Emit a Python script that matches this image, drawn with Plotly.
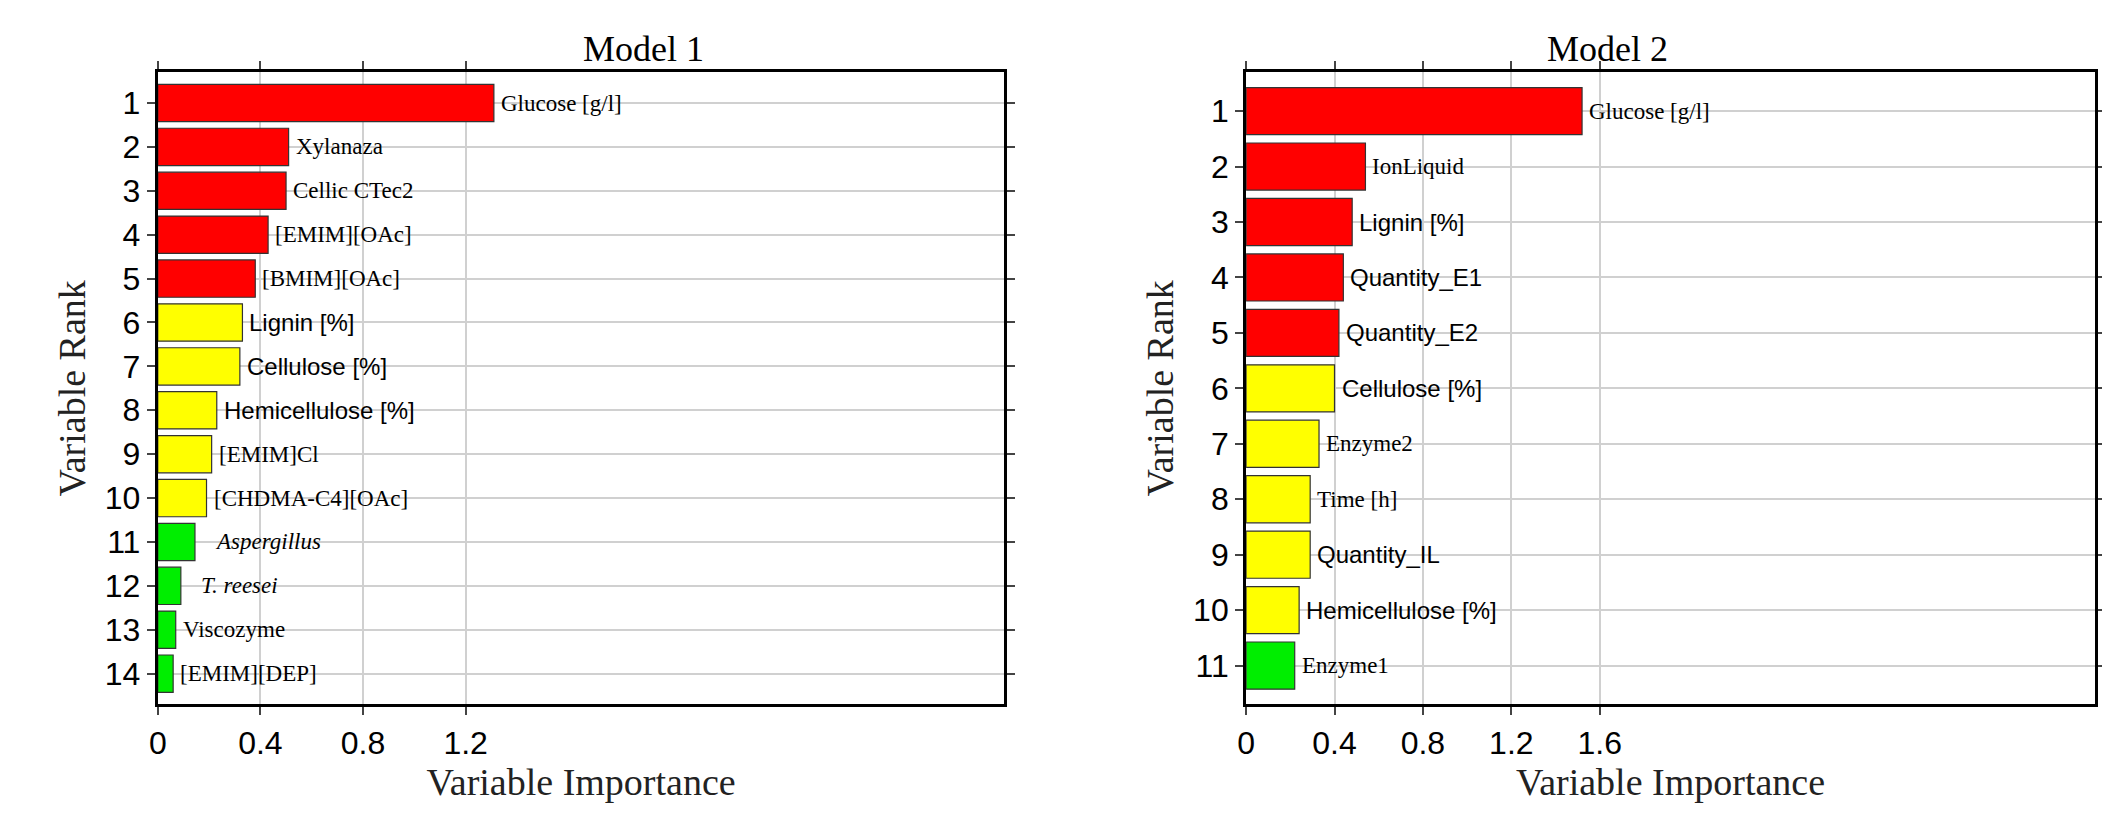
import plotly.graph_objects as go

m1_labels = ["Glucose [g/l]", "Xylanaza", "Cellic CTec2", "[EMIM][OAc]", "[BMIM][OAc]", "Lignin [%]",
             "Cellulose [%]", "Hemicellulose [%]", "[EMIM]Cl", "[CHDMA-C4][OAc]", "<i>Aspergillus</i>",
             "<i>T. reesei</i>", "Viscozyme", "[EMIM][DEP]"]
m1_values = [1.31, 0.51, 0.50, 0.43, 0.38, 0.33, 0.32, 0.23, 0.21, 0.19, 0.145, 0.09, 0.07, 0.06]
m1_colors = ["#ff0000"] * 5 + ["#ffff00"] * 5 + ["#00ee00"] * 4
m1_serif = [1, 1, 1, 1, 1, 0, 0, 0, 1, 1, 1, 1, 1, 1]

m2_labels = ["Glucose [g/l]", "IonLiquid", "Lignin [%]", "Quantity_E1", "Quantity_E2", "Cellulose [%]",
             "Enzyme2", "Time [h]", "Quantity_IL", "Hemicellulose [%]", "Enzyme1"]
m2_values = [1.52, 0.54, 0.48, 0.44, 0.42, 0.40, 0.33, 0.29, 0.29, 0.24, 0.22]
m2_colors = ["#ff0000"] * 5 + ["#ffff00"] * 5 + ["#00ee00"]
m2_serif = [1, 1, 0, 0, 0, 0, 1, 1, 0, 0, 1]

SERIF = "Liberation Serif"
SANS = "Liberation Sans"

fig = go.Figure()
panels = [
    (m1_labels, m1_values, m1_colors, m1_serif, "x", "y", [0.067, 0.47], 3.3, [0, 0.4, 0.8, 1.2], "Model 1"),
    (m2_labels, m2_values, m2_colors, m2_serif, "x2", "y2", [0.585, 0.989], 3.84, [0, 0.4, 0.8, 1.2, 1.6], "Model 2"),
]
annotations = []
for i, (labs, vals, cols, serif, xa, ya, dom, xmax, ticks, title) in enumerate(panels):
    ranks = list(range(1, len(vals) + 1))
    fig.add_trace(go.Bar(x=vals, y=ranks, orientation="h", marker=dict(color=cols, line=dict(color="#333", width=1.2)),
                         width=0.85, xaxis=xa, yaxis=ya, showlegend=False))
    sfx = "" if i == 0 else "2"
    fig.update_layout(**{
        "xaxis" + sfx: dict(domain=dom, range=[0, xmax], tickvals=ticks, ticktext=[f"{t:g}" for t in ticks],
                            showgrid=True, gridcolor="#d0d0d0", gridwidth=2, zeroline=False,
                            showline=True, linecolor="black", linewidth=3, mirror="ticks",
                            ticks="outside", ticklen=8, tickwidth=2, anchor=ya.replace("y", "y"),
                            tickfont=dict(family=SANS, size=32, color="black"),
                            title=dict(text="Variable Importance", font=dict(family=SERIF, size=38, color="#222"), standoff=6)),
        "yaxis" + sfx: dict(domain=[0.166, 0.923], range=[len(vals) + 0.7, 0.3], tickvals=ranks,
                            showgrid=True, gridcolor="#d0d0d0", gridwidth=2, zeroline=False,
                            showline=True, linecolor="black", linewidth=3, mirror="ticks",
                            ticks="outside", ticklen=8, tickwidth=2, anchor=xa,
                            tickfont=dict(family=SANS, size=32, color="black"),
                            title=dict(text="Variable Rank", font=dict(family=SERIF, size=38, color="#222"), standoff=8)),
    })
    for lab, v, r, s in zip(labs, vals, ranks, serif):
        shift = 18 if "<i>" in lab else 5
        annotations.append(dict(x=v, y=r, xref=xa, yref=ya, text=lab, showarrow=False, xanchor="left",
                                xshift=shift, font=dict(family=SERIF if s else SANS, size=23 if s else 24, color="black")))
    annotations.append(dict(x=(dom[0] + dom[1]) / 2, y=0.925, xref="paper", yref="paper", text=title,
                            showarrow=False, yanchor="bottom", font=dict(family=SERIF, size=36, color="black")))

fig.update_layout(width=2110, height=835, margin=dict(l=0, r=0, t=0, b=0),
                  plot_bgcolor="white", paper_bgcolor="white", annotations=annotations, bargap=0.15)
fig.write_html("out.html")
